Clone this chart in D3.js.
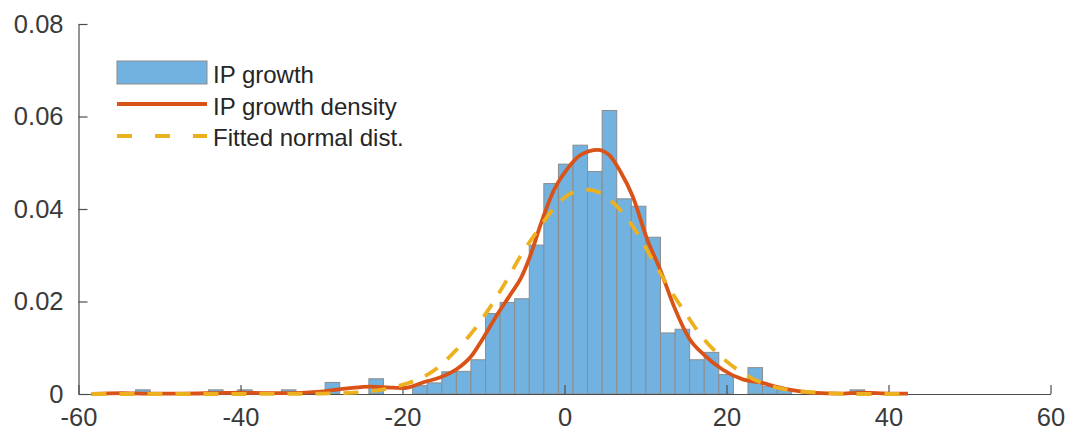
<!DOCTYPE html>
<html>
<head>
<meta charset="utf-8">
<script src="https://cdn.jsdelivr.net/npm/d3@7"></script>
<style>
  html, body { margin: 0; padding: 0; background: #fff; }
  svg { display: block; font-family: "Liberation Sans", Arial, Helvetica, sans-serif; }
</style>
</head>
<body>
<svg id="chart" width="1067" height="434"></svg>
<script>
// ---------------- data ----------------
const binEdges = [-58.35,-56.55,-54.75,-52.95,-51.15,-49.35,-47.55,-45.75,-43.95,-42.15,
  -40.35,-38.55,-36.75,-34.95,-33.15,-31.35,-29.55,-27.75,-25.95,-24.15,
  -22.35,-20.55,-18.75,-16.95,-15.15,-13.35,-11.55,-9.75,-7.95,-6.15,
  -4.35,-2.55,-0.75,1.05,2.85,4.65,6.45,8.25,10.05,11.85,
  13.65,15.45,17.25,19.05,20.85,22.65,24.45,26.25,28.05,29.85,
  31.65,33.45,35.25,37.05,38.85,40.65,42.45];
const binDensity = [0,0,0,0.0009,0,0,0,0,0.0009,0,
  0.0009,0,0,0.0009,0,0,0.0025,0,0,0.0033,
  0,0,0.0018,0.0024,0.0048,0.0049,0.0074,0.0174,0.0198,0.0206,
  0.0322,0.0455,0.0497,0.0538,0.0481,0.0613,0.0422,0.0406,0.0339,0.0132,
  0.0140,0.0074,0.0090,0.0042,0,0.0057,0.0017,0.0009,0,0,
  0,0,0.0009,0,0,0];

const kdeX = [-58.4,-54.7,-51.4,-47.3,-43.2,-39.9,-36.6,-33.4,-30.1,-26.8,
  -23.9,-21.6,-19.8,-17.3,-15.3,-13.2,-11.6,-9.9,-8.3,-6.6,
  -5.4,-4.2,-2.9,-1.3,0.4,2.0,4.1,5.5,6.9,8.4,
  10.2,11.9,13.5,15.4,17.2,19.5,22.1,24.4,26.3,28.3,
  30.4,34.4,36.5,40.6,42.4];
const kdeY = [0.0000,0.0002,0.0001,0.0001,0.0002,0.0003,0.0002,0.0002,0.0005,0.0012,
  0.0016,0.0014,0.0013,0.0026,0.0036,0.0055,0.0080,0.0125,0.0172,0.0217,
  0.0250,0.0300,0.0369,0.0441,0.0488,0.0517,0.0528,0.0517,0.0481,0.0428,
  0.0335,0.0265,0.0190,0.0120,0.0085,0.0053,0.0031,0.0024,0.0015,0.0008,
  0.0003,0.0001,0.0003,0.0001,0.0001];

const normX = [-58.4,-40,-30,-26,-23.9,-21.5,-19.4,-17.5,-15.7,-13.6,
  -11.8,-10.7,-9.1,-7.0,-5.4,-3.3,-1.3,0.6,2.7,4.5,
  6.1,8.2,9.4,11.2,13.1,15.2,17.0,19.5,22.1,25.0,
  27.0,29.1,32.4,36,42.4];
const normY = [0,0,0.0001,0.0003,0.0006,0.0013,0.0023,0.0036,0.0056,0.0091,
  0.0125,0.0149,0.0190,0.0250,0.0299,0.0354,0.0402,0.0432,0.0442,0.0434,
  0.0412,0.0369,0.0335,0.0280,0.0224,0.0168,0.0123,0.0078,0.0044,0.0020,
  0.0011,0.0006,0.0002,0,0];

const xTicks = [-60,-40,-20,0,20,40,60];
const yTicks = [0,0.02,0.04,0.06,0.08];
const legendLabels = ["IP growth","IP growth density","Fitted normal dist."];

// ---------------- drawing ----------------
const svg = d3.select("#chart");
const x = d3.scaleLinear().domain([-60, 60]).range([78.5, 1050.5]);
const y = d3.scaleLinear().domain([0, 0.08]).range([394, 24]);

const axisColor = "#4d4d4d";
const textColor = "#3a3a3a";
const barFill = "#72b2e0";
const barStroke = "#8c8c8c";
const red = "#D95319";
const yellow = "#EDB120";
const fs = 24;
const tfs = 25.5;

// bars
const bins = binDensity.map((d, i) => ({ x0: binEdges[i], x1: binEdges[i + 1], v: d }));
svg.append("g").selectAll("rect")
  .data(bins.filter(b => b.v > 0))
  .join("rect")
  .attr("x", b => x(b.x0))
  .attr("y", b => y(b.v))
  .attr("width", b => x(b.x1) - x(b.x0))
  .attr("height", b => y(0) - y(b.v))
  .attr("fill", barFill)
  .attr("stroke", barStroke)
  .attr("stroke-width", 1);

// axes
const xAxis = d3.axisBottom(x).tickValues(xTicks).tickSizeInner(-9).tickSizeOuter(0).tickPadding(14)
  .tickFormat(d3.format("d"));
const gx = svg.append("g").attr("transform", `translate(0,${y(0)})`).call(xAxis);
gx.select(".domain").attr("stroke", axisColor).attr("stroke-width", 1.2);
gx.selectAll(".tick line").attr("stroke", axisColor).attr("stroke-width", 1.2);
gx.selectAll(".tick text").attr("fill", textColor).style("font-size", tfs + "px")
  .text(d => d < 0 ? "-" + Math.abs(d) : d);

const yAxis = d3.axisLeft(y).tickValues(yTicks).tickSizeInner(-9).tickSizeOuter(0).tickPadding(15)
  .tickFormat(d => d === 0 ? "0" : d3.format(".2f")(d));
const gy = svg.append("g").attr("transform", `translate(${x(-60)},0)`).call(yAxis);
gy.select(".domain").attr("stroke", axisColor).attr("stroke-width", 1.2);
gy.selectAll(".tick line").attr("stroke", axisColor).attr("stroke-width", 1.2);
gy.selectAll(".tick text").attr("fill", textColor).style("font-size", tfs + "px");

// density line
const lineGen = d3.line().x(d => x(d[0])).y(d => y(d[1])).curve(d3.curveMonotoneX);
svg.append("path")
  .datum(kdeX.map((v, i) => [v, kdeY[i]]))
  .attr("d", lineGen)
  .attr("fill", "none")
  .attr("stroke", red)
  .attr("stroke-width", 3.8)
  .attr("stroke-linejoin", "round");

svg.append("path")
  .datum(normX.map((v, i) => [v, normY[i]]))
  .attr("d", lineGen)
  .attr("fill", "none")
  .attr("stroke", yellow)
  .attr("stroke-width", 3.8)
  .attr("stroke-dasharray", "15,13");

// legend
const lg = svg.append("g");
const lx0 = 117, lx1 = 207;
lg.append("rect").attr("x", lx0).attr("y", 61).attr("width", lx1 - lx0).attr("height", 23)
  .attr("fill", barFill).attr("stroke", barStroke).attr("stroke-width", 1);
lg.append("line").attr("x1", lx0).attr("x2", lx1).attr("y1", 104).attr("y2", 104)
  .attr("stroke", red).attr("stroke-width", 3.8);
lg.append("line").attr("x1", lx0).attr("x2", lx1).attr("y1", 136).attr("y2", 136)
  .attr("stroke", yellow).attr("stroke-width", 3.8).attr("stroke-dasharray", "15,23");
const rowsY = [82.5, 114.5, 146];
lg.selectAll("text.leg").data(legendLabels).join("text")
  .attr("class", "leg")
  .attr("x", 213).attr("y", (d, i) => rowsY[i])
  .attr("fill", "#262626")
  .style("font-size", fs + "px")
  .text(d => d);
</script>
</body>
</html>
